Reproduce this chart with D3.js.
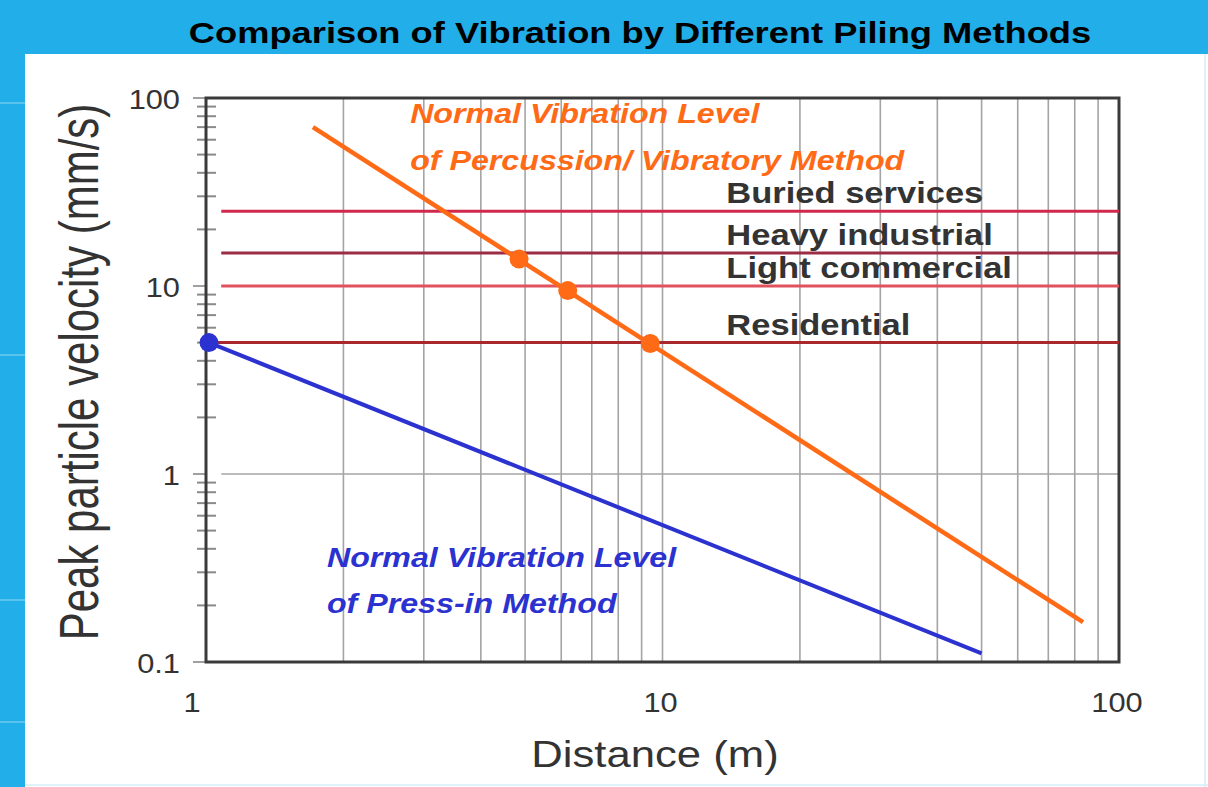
<!DOCTYPE html>
<html>
<head>
<meta charset="utf-8">
<script src="https://cdn.jsdelivr.net/npm/d3@7"></script>
<style>
  html, body { margin: 0; padding: 0; background: #22aee8; }
  svg { display: block; font-family: 'Liberation Sans', Arial, sans-serif; }
</style>
</head>
<body>
<svg id="chart" width="1208" height="787"></svg>
<script>
// values
const xTicks = [1, 10, 100]
const yTicks = [0.1, 1, 10, 100]
const levels = ['Buried services', 'Heavy industrial', 'Light commercial', 'Residential']
const levelValues = [25, 15, 10, 5]
const levelFrom = [1.08, 1.08, 1.08, 1.02]
const percussionLine = [[1.715, 70], [83.4, 0.163]]
const percussionDots = [[4.85, 13.9], [6.2, 9.45], [9.4, 4.95]]
const pressInLine = [[1.015, 5], [50, 0.111]]
const pressInDots = [[1.015, 5]]

const levelColors = ['#d0284e', '#9c2b44', '#e0525e', '#a8282e']
const orange = '#ff6a16'
const blue = '#2b32cf'

const W = 1208, H = 787
const plot = { left: 206, right: 1119, top: 98, bottom: 662 }

const svg = d3.select('#chart')

// slide background + white panel
svg.append('rect').attr('width', W).attr('height', H).attr('fill', '#22aee8')
;[103, 355, 600, 722].forEach(y => {
  svg.append('line').attr('x1', 0).attr('x2', 25).attr('y1', y).attr('y2', y)
    .attr('stroke', '#6ccaf0').attr('stroke-width', 1.5)
})
svg.append('rect').attr('x', 25).attr('y', 54).attr('width', W - 25).attr('height', H - 54).attr('fill', '#fff')
svg.append('line').attr('x1', 1205).attr('x2', 1205).attr('y1', 54).attr('y2', 787).attr('stroke', '#d4eefa').attr('stroke-width', 1.5)
svg.append('line').attr('x1', 25).attr('x2', 1208).attr('y1', 785).attr('y2', 785).attr('stroke', '#d4eefa').attr('stroke-width', 1.5)

// stretched text helper (the source picture is widened horizontally)
const label = (g, x, y, txt, size, sx, opts = {}) => {
  const t = g.append('text')
    .attr('transform', `translate(${x},${y}) scale(${sx},1)${opts.rotate ? ' rotate(-90)' : ''}`)
    .attr('font-size', size)
    .attr('text-anchor', opts.anchor || 'start')
    .attr('fill', opts.fill || '#333')
    .text(txt)
  if (opts.weight) t.attr('font-weight', opts.weight)
  if (opts.italic) t.attr('font-style', 'italic')
  return t
}

label(svg, 640, 43, 'Comparison of Vibration by Different Piling Methods', 30, 1.21,
  { anchor: 'middle', weight: 'bold', fill: '#000' })

const x = d3.scaleLog().domain([1, 100]).range([plot.left, plot.right])
const y = d3.scaleLog().domain([0.1, 100]).range([plot.bottom, plot.top])

const minorX = d3.range(1, 3).flatMap(e => d3.range(2, 10).map(k => k * Math.pow(10, e - 1)))
const minorY = d3.range(-1, 2).flatMap(e => d3.range(2, 10).map(k => k * Math.pow(10, e)))

// vertical grid
svg.append('g').selectAll('line').data(minorX.concat([10])).enter().append('line')
  .attr('x1', d => x(d)).attr('x2', d => x(d))
  .attr('y1', plot.top).attr('y2', plot.bottom)
  .attr('stroke', '#a4a4a4').attr('stroke-width', 1.6)

// horizontal grid at 1 and 10
svg.append('g').selectAll('line').data([1, 10]).enter().append('line')
  .attr('x1', x(1.08)).attr('x2', plot.right)
  .attr('y1', d => y(d)).attr('y2', d => y(d))
  .attr('stroke', '#a4a4a4').attr('stroke-width', 1.6)

// y ticks
const yAxis = svg.append('g')
yAxis.selectAll('.minor').data(minorY).enter().append('line')
  .attr('x1', plot.left - 9).attr('x2', plot.left + 10)
  .attr('y1', d => y(d)).attr('y2', d => y(d))
  .attr('stroke', '#8a8a8a').attr('stroke-width', 2)
yAxis.selectAll('.major').data(yTicks).enter().append('line')
  .attr('x1', plot.left - 13).attr('x2', plot.left)
  .attr('y1', d => y(d)).attr('y2', d => y(d))
  .attr('stroke', '#a0a0a0').attr('stroke-width', 2)
yTicks.forEach(v => label(yAxis, 180, y(v) + 11, String(v), 28, 1.1, { anchor: 'end' }))
xTicks.forEach((v, i) => label(svg, x(v) - 2 - (i === 0 ? 12 : 0), 712, String(v), 28, 1.1, { anchor: 'middle' }))

// frame
svg.append('rect')
  .attr('x', plot.left).attr('y', plot.top)
  .attr('width', plot.right - plot.left).attr('height', plot.bottom - plot.top)
  .attr('fill', 'none').attr('stroke', '#3a3a3a').attr('stroke-width', 3)

// damage limit lines
const lv = svg.append('g')
lv.selectAll('line').data(levelValues).enter().append('line')
  .attr('x1', (d, i) => x(levelFrom[i])).attr('x2', plot.right)
  .attr('y1', d => y(d)).attr('y2', d => y(d))
  .attr('stroke', (d, i) => levelColors[i]).attr('stroke-width', 3)
levels.forEach((name, i) => label(lv, x(13.8), y(levelValues[i]) - 8, name, 29, 1.19, { weight: 'bold' }))

// vibration lines
const line = d3.line().x(d => x(d[0])).y(d => y(d[1]))
svg.append('path').datum(percussionLine).attr('d', line)
  .attr('fill', 'none').attr('stroke', orange).attr('stroke-width', 4.5)
svg.append('path').datum(pressInLine).attr('d', line)
  .attr('fill', 'none').attr('stroke', blue).attr('stroke-width', 4)

svg.append('g').selectAll('circle').data(percussionDots).enter().append('circle')
  .attr('cx', d => x(d[0])).attr('cy', d => y(d[1])).attr('r', 9.5).attr('fill', orange)
svg.append('g').selectAll('circle').data(pressInDots).enter().append('circle')
  .attr('cx', d => x(d[0])).attr('cy', d => y(d[1])).attr('r', 9.5).attr('fill', blue)

// annotations
label(svg, x(2.8), 123, 'Normal Vibration Level', 28, 1.15, { weight: 'bold', italic: true, fill: orange })
label(svg, x(2.8), 170, 'of Percussion/ Vibratory Method', 28, 1.15, { weight: 'bold', italic: true, fill: orange })
label(svg, x(1.84), 567, 'Normal Vibration Level', 28, 1.15, { weight: 'bold', italic: true, fill: blue })
label(svg, x(1.84), 613, 'of Press-in Method', 28, 1.15, { weight: 'bold', italic: true, fill: blue })

// axis titles
label(svg, 655, 767, 'Distance (m)', 37, 1.18, { anchor: 'middle' })
label(svg, 98, 372, 'Peak particle velocity (mm/s)', 42, 1.3, { anchor: 'middle', rotate: true })
</script>
</body>
</html>
